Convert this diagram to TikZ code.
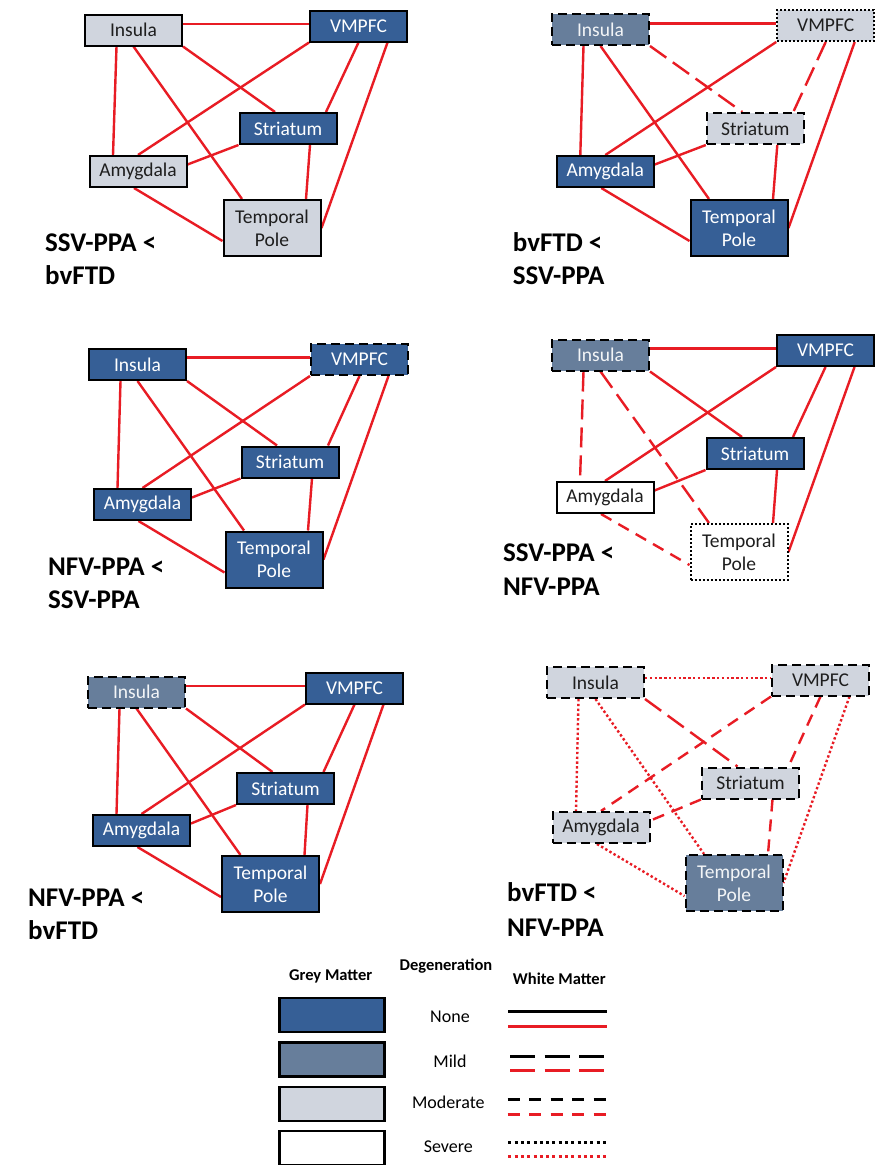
\documentclass[tikz,border=0pt]{standalone}
\usepackage{fontspec}
\setmainfont{Carlito}
\usetikzlibrary{calc}
\pgfdeclarelayer{paper}
\pgfdeclarelayer{wires}
\pgfsetlayers{paper,wires,main}
\definecolor{gnone}{RGB}{54,95,150}
\definecolor{gmild}{RGB}{103,126,155}
\definecolor{gmod}{RGB}{208,213,222}
\definecolor{wred}{RGB}{232,28,36}
\definecolor{ink}{RGB}{30,30,30}
\tikzset{
  box/.style={draw=black, line width=2pt, minimum width=97pt, minimum height=31pt,
    inner sep=0pt, align=center, font=\fontsize{19.5}{22.7}\selectfont},
  tall/.style={minimum height=56pt},
  gmnone/.style={fill=gnone, text=white},
  gmmild/.style={fill=gmild, text=white!92!gmild},
  gmmod/.style={fill=gmod, text=ink},
  gmsev/.style={fill=white, text=ink},
  bdash/.style={dash pattern=on 9pt off 5pt},
  bdot/.style={dash pattern=on 2pt off 2pt},
  wire/.style={draw=wred, line width=2.4pt},
  wmild/.style={dash pattern=on 20pt off 8pt},
  wmod/.style={dash pattern=on 12pt off 8pt},
  wsev/.style={dash pattern=on 2.4pt off 2.4pt},
  lab/.style={anchor=base west, inner sep=0pt, font=\fontsize{27}{30}\selectfont\bfseries},
  lhead/.style={inner sep=0pt, font=\fontsize{16.5}{18}\selectfont\bfseries},
  ltext/.style={inner sep=0pt, font=\fontsize{18}{20}\selectfont},
  lbox/.style={draw=black, line width=2.2pt, minimum width=105pt, minimum height=34pt, inner sep=0pt},
  lline/.style={line width=3pt},
}
\newcommand\wires[2]{%
\begin{pgfonlayer}{wires}
\begin{scope}[w-iv/.style={},w-ia/.style={},w-it/.style={},w-is/.style={},w-va/.style={},
  w-vs/.style={},w-vt/.style={},w-sa/.style={},w-st/.style={},w-at/.style={},#2]
\draw[wire,w-iv] ($(#1i.east |- #1v.west)+(0,-2)$) -- ($(#1v.west)+(0,-2)$);
\draw[wire,w-ia] ($(#1i.south)+(-17,0)$) -- ($(#1a.north)+(-25,0)$);
\draw[wire,w-it] (#1i.south) -- ($(#1t.north)+(-30,0)$);
\draw[wire,w-is] (#1i.south east) -- ($(#1s.north)+(-13,0)$);
\draw[wire,w-va] (#1v.south west) -- (#1a.north);
\draw[wire,w-vs] (#1v.south) -- ($(#1s.north)+(38,0)$);
\draw[wire,w-vt] ($(#1v.south)+(29,0)$) -- (#1t.east);
\draw[wire,w-sa] (#1s.south west) -- ($(#1a.east)+(0,-7)$);
\draw[wire,w-st] ($(#1s.south)+(22,0)$) -- ($(#1t.north)+(34,0)$);
\draw[wire,w-at] ($(#1a.south)+(-4,0)$) -- ($(#1t.west)+(0,13)$);
\end{scope}
\end{pgfonlayer}}
\begin{document}
\begin{tikzpicture}[x=1pt,y=-1pt]
\useasboundingbox (0,0) rectangle (877,1165);
\begin{pgfonlayer}{paper}
\fill[white] (0,0) rectangle (877,1165);
\end{pgfonlayer}

% Panel 1
\node[box,gmmod] (p1i) at (133.5,30) {Insula};
\node[box,gmnone] (p1v) at (358.5,26) {VMPFC};
\node[box,gmnone] (p1s) at (288,128.5) {Striatum};
\node[box,gmmod] (p1a) at (138,171.5) {Amygdala};
\node[box,tall,gmmod] (p1t) at (272,228) {Temporal\\Pole};
\wires{p1}{}
\node[lab] (p1l1) at (45,251.7) {SSV-PPA <};
\node[lab] (p1l2) at (45,284.7) {bvFTD};

% Panel 2
\node[box,gmmild,bdash] (p2i) at (600.5,29.5) {Insula};
\node[box,gmmod,bdot] (p2v) at (825.7,25.5) {VMPFC};
\node[box,gmmod,bdash] (p2s) at (755.3,128.5) {Striatum};
\node[box,gmnone] (p2a) at (605.3,171.5) {Amygdala};
\node[box,tall,gmnone] (p2t) at (739,228) {Temporal\\Pole};
\wires{p2}{w-is/.style=wmild,w-vs/.style=wmild}
\node[lab] (p2l1) at (512.7,251.7) {bvFTD <};
\node[lab] (p2l2) at (512.7,284.7) {SSV-PPA};

% Panel 3
\node[box,gmnone] (p3i) at (137.5,364.5) {Insula};
\node[box,gmnone,bdash] (p3v) at (359.5,359.5) {VMPFC};
\node[box,gmnone] (p3s) at (290,462) {Striatum};
\node[box,gmnone] (p3a) at (142.5,504.5) {Amygdala};
\node[box,tall,gmnone] (p3t) at (274,559.5) {Temporal\\Pole};
\wires{p3}{}
\node[lab] (p3l1) at (48,575.7) {NFV-PPA <};
\node[lab] (p3l2) at (48,608.7) {SSV-PPA};

% Panel 4
\node[box,gmmild,bdash] (p4i) at (600.5,355) {Insula};
\node[box,gmnone] (p4v) at (825.5,350.5) {VMPFC};
\node[box,gmnone] (p4s) at (755,453.5) {Striatum};
\node[box,gmsev] (p4a) at (605,497.5) {Amygdala};
\node[box,tall,gmsev,bdot] (p4t) at (739,552) {Temporal\\Pole};
\wires{p4}{w-ia/.style=wmild,w-it/.style=wmild,w-at/.style=wmod}
\node[lab] (p4l1) at (503,561.7) {SSV-PPA <};
\node[lab] (p4l2) at (503,595.7) {NFV-PPA};

% Panel 5
\node[box,gmmild,bdash] (p5i) at (136.5,692) {Insula};
\node[box,gmnone] (p5v) at (354.5,688) {VMPFC};
\node[box,gmnone] (p5s) at (285.5,788.5) {Striatum};
\node[box,gmnone] (p5a) at (141.5,830.5) {Amygdala};
\node[box,tall,gmnone] (p5t) at (270.5,884) {Temporal\\Pole};
\wires{p5}{}
\node[lab] (p5l1) at (28,906.7) {NFV-PPA <};
\node[lab] (p5l2) at (28,939.7) {bvFTD};

% Panel 6
\node[box,gmmod,bdash] (p6i) at (595.5,682.5) {Insula};
\node[box,gmmod,bdash] (p6v) at (820.5,680) {VMPFC};
\node[box,gmmod,bdash] (p6s) at (750.5,783) {Striatum};
\node[box,gmmod,bdash] (p6a) at (601,827.5) {Amygdala};
\node[box,tall,gmmild,bdash] (p6t) at (734,883) {Temporal\\Pole};
\wires{p6}{w-iv/.style=wsev,w-ia/.style=wsev,w-it/.style=wsev,w-is/.style=wmild,
  w-va/.style=wmod,w-vs/.style=wmod,w-vt/.style=wsev,w-sa/.style=wmod,w-st/.style=wmod,w-at/.style=wsev}
\node[lab] (p6l1) at (507,901.7) {bvFTD <};
\node[lab] (p6l2) at (507,936.7) {NFV-PPA};

% Legend
\node[lhead] (lg1) at (330.7,976.7) {Grey Matter};
\node[lhead] (lg2) at (446,966) {Degeneration};
\node[lhead] (lg3) at (559.3,978.3) {White Matter};
\node[lbox,fill=gnone] (lr1) at (332,1015.3) {};
\node[lbox,fill=gmild] (lr2) at (332,1059.5) {};
\node[lbox,fill=gmod] (lr3) at (332,1103.8) {};
\node[lbox,fill=white] (lr4) at (332,1148.3) {};
\node[ltext] (lt1) at (450,1016.7) {None};
\node[ltext] (lt2) at (450,1061) {Mild};
\node[ltext] (lt3) at (448.3,1102.7) {Moderate};
\node[ltext] (lt4) at (448.3,1146.7) {Severe};
\draw[lline,black] (508.3,1011.7) -- (606.5,1011.7);
\draw[lline,wred] (508.3,1026) -- (606.5,1026);
\draw[lline,black,dash pattern=on 25pt off 9.5pt] (510,1056) -- (606.5,1056);
\draw[lline,wred,dash pattern=on 25pt off 9.5pt] (510,1070.5) -- (606.5,1070.5);
\draw[lline,black,dash pattern=on 12pt off 9.5pt] (507.5,1099) -- (607,1099);
\draw[lline,wred,dash pattern=on 12pt off 9.5pt] (507.5,1114) -- (607,1114);
\draw[lline,black,dash pattern=on 3pt off 3.3pt] (508.3,1142.3) -- (606.5,1142.3);
\draw[lline,wred,dash pattern=on 3pt off 3.3pt] (508.3,1156.5) -- (606.5,1156.5);
\end{tikzpicture}
\end{document}
